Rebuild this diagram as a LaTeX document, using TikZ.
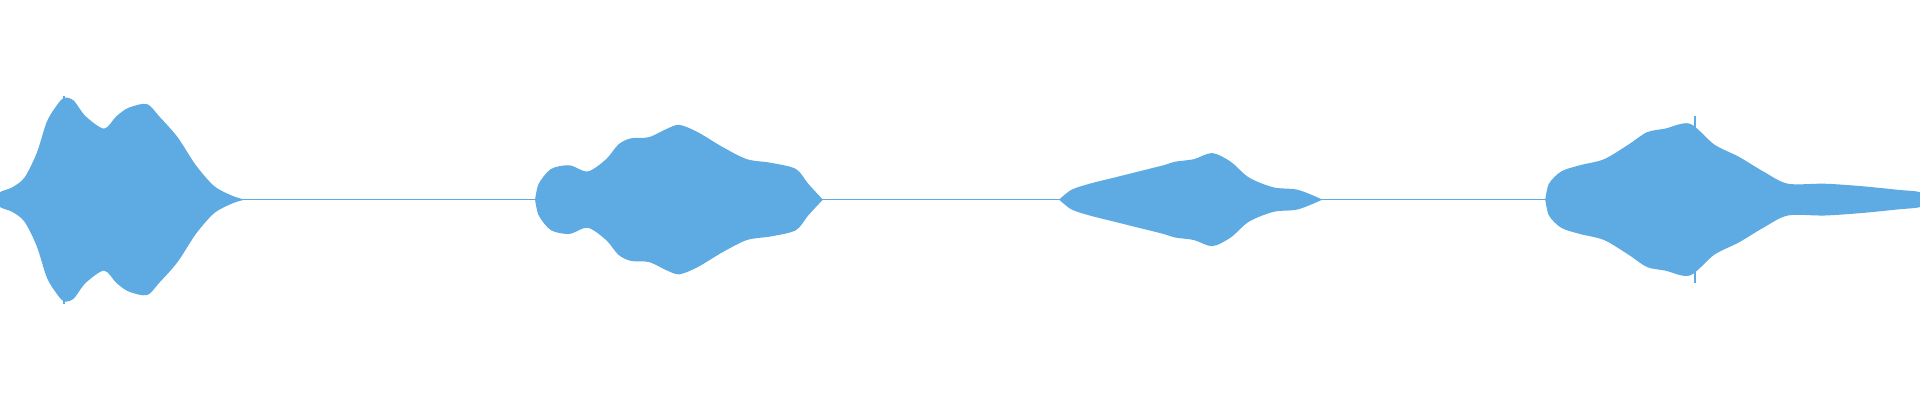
\documentclass[tikz,border=0pt]{standalone}
\definecolor{wave}{RGB}{93,171,226}
\newcommand\wavehalf{%
\fill[wave] plot[smooth,tension=0.5] coordinates {(0,0)(0,6)(10,10)(20,18)(30,38)(38,63)(45,75)(52,83)(60,81)(70,68)(85,58)(95,68)(105,75)(120,78)(130,68)(145,51)(160,28)(175,11)(190,3)(200,0)} -- cycle;
\fill[wave] plot[smooth,tension=0.5] coordinates {(437,0)(440,13)(450,25)(465,28)(480,23)(495,33)(505,45)(515,50)(530,51)(545,58)(555,61)(570,55)(590,43)(610,33)(630,30)(650,25)(660,13)(672,0)} -- cycle;
\fill[wave] plot[smooth,tension=0.5] coordinates {(865,0)(875,8)(890,13)(910,18)(930,23)(950,28)(960,31)(975,33)(990,38)(1005,31)(1020,18)(1040,10)(1060,8)(1080,0)} -- cycle;
\fill[wave] plot[smooth,tension=0.5] coordinates {(1262,0)(1265,13)(1275,23)(1290,28)(1310,33)(1330,45)(1345,55)(1360,58)(1380,62)(1400,45)(1420,35)(1440,23)(1460,13)(1490,13)(1520,11)(1550,8)(1568,6)(1568,0)} -- cycle;
\draw[wave,line width=0.4] (0,0) -- (1568,0);
\draw[wave,line width=0.5] (1384,0) -- (1384,68);
\draw[wave,line width=0.5] (52,0) -- (52,85);
}
\begin{document}
\begin{tikzpicture}[x=0.01cm,y=0.01cm]
\useasboundingbox (0,-163) rectangle (1568,163);
\wavehalf
\begin{scope}[yscale=-1]\wavehalf\end{scope}
\end{tikzpicture}
\end{document}
